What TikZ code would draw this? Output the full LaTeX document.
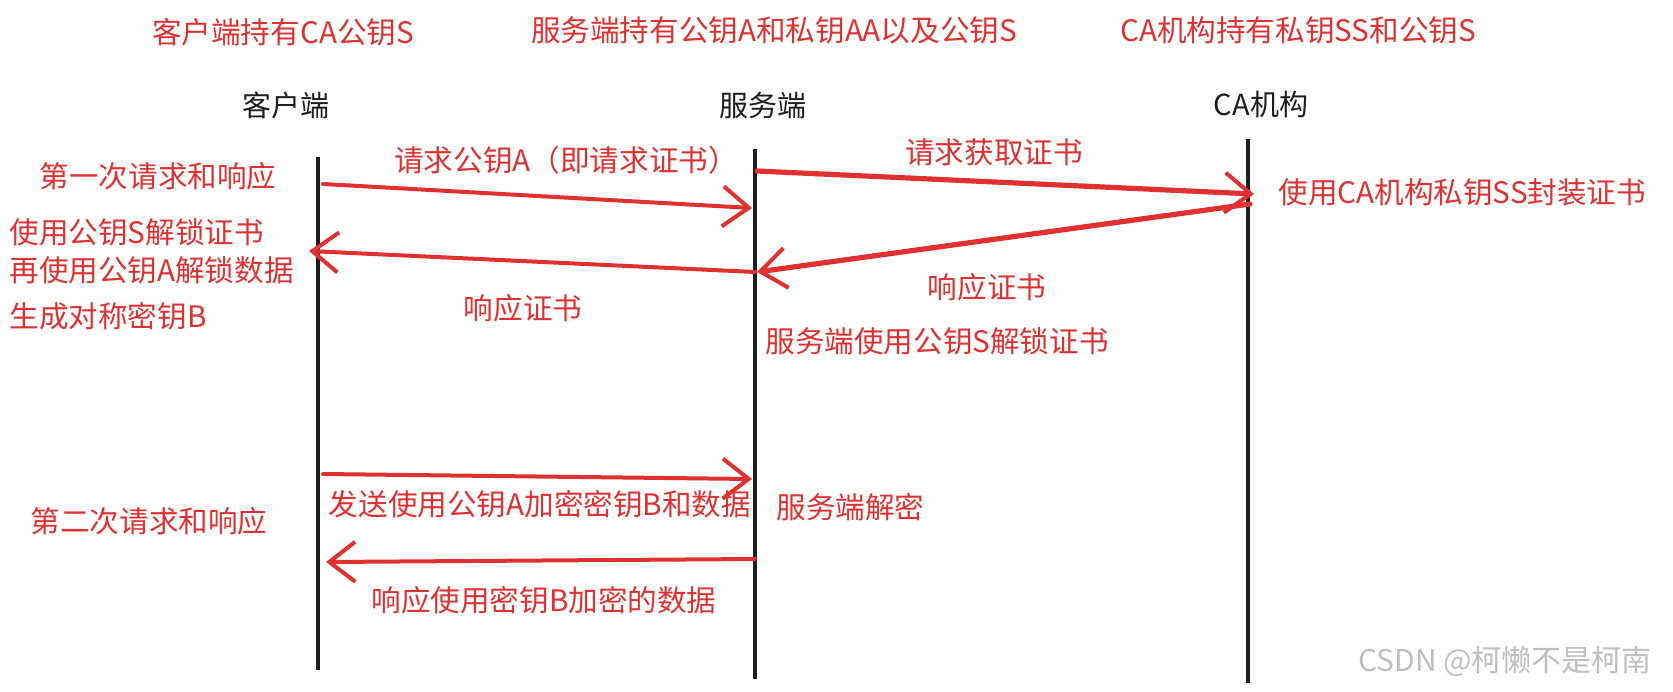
\documentclass[tikz,border=0pt]{standalone}
\usepackage{fontspec}
\setmainfont{Noto Sans CJK SC}
\usepackage{xcolor}
\usepackage{tikz}
\usetikzlibrary{arrows.meta,positioning}
\definecolor{sketchred}{RGB}{224,49,49}
\definecolor{inkblack}{RGB}{30,30,30}

\begin{document}
\begin{tikzpicture}[
    x=0.5pt, y=-0.5pt,
    redtxt/.style={text=sketchred, font=\fontsize{14.8}{17}\selectfont, inner sep=0pt},
    head/.style={text=inkblack, font=\fontsize{14.5}{17}\selectfont, inner sep=0pt},
    life/.style={draw=inkblack, line width=1.6pt},
    msg/.style={draw=sketchred, line width=2pt, line cap=round,
        -{Straight Barb[length=13pt, width=20pt, line width=2pt]}}
]
\useasboundingbox (0,0) rectangle (1673,691);

% who holds which key
\node[redtxt] (holdc) at (283,32) {客户端持有CA公钥S};
\node[redtxt] (holds) at (774,30) {服务端持有公钥A和私钥AA以及公钥S};
\node[redtxt] (holdca) at (1298,30) {CA机构持有私钥SS和公钥S};

% parties and lifelines
\node[head] (client) at (286,105) {客户端};
\node[head] (server) at (763,105) {服务端};
\node[head] (ca) at (1261,104) {CA机构};

\coordinate (c1) at (318,157);  \coordinate (c2) at (318,670);
\coordinate (s1) at (755,149);  \coordinate (s2) at (755,679);
\coordinate (a1) at (1248,139); \coordinate (a2) at (1248,683);
\draw[life] (c1) -- (c2);
\draw[life] (s1) -- (s2);
\draw[life] (a1) -- (a2);

% first round
\node[redtxt] (round1) at (158,176) {第一次请求和响应};
\coordinate (m1a) at (323,184);  \coordinate (m1b) at (752,208);
\coordinate (m2a) at (757,171);  \coordinate (m2b) at (1254,194);
\coordinate (m3a) at (1250,204); \coordinate (m3b) at (757,272);
\coordinate (m4a) at (755,272);  \coordinate (m4b) at (309,251);
\draw[msg] (m1a) -- (m1b);
\draw[msg, line width=2.6pt] (m2a) -- (m2b);
\draw[msg, line width=2.6pt] (m3a) -- (m3b);
\draw[msg] (m4a) -- (m4b);
\node[redtxt] (req) at (566,160) {请求公钥A（即请求证书）};
\node[redtxt] (reqca) at (994,152) {请求获取证书};
\node[redtxt, anchor=west] (seal) at (1278,192) {使用CA机构私钥SS封装证书};
\node[redtxt] (respca) at (987,287) {响应证书};
\node[redtxt] (resp) at (523,308) {响应证书};
\node[redtxt, anchor=west] (unlock1) at (9,232) {使用公钥S解锁证书};
\node[redtxt, anchor=west] (unlock2) at (9,270) {再使用公钥A解锁数据};
\node[redtxt, anchor=west] (genkey) at (9,316) {生成对称密钥B};
\node[redtxt, anchor=west] (unlocks) at (765,341) {服务端使用公钥S解锁证书};

% second round
\node[redtxt] (round2) at (149,521) {第二次请求和响应};
\coordinate (m5a) at (323,474); \coordinate (m5b) at (752,479);
\coordinate (m6a) at (755,559); \coordinate (m6b) at (326,562);
\draw[msg] (m5a) -- (m5b);
\draw[msg] (m6a) -- (m6b);
\node[redtxt] (send) at (540,504) {发送使用公钥A加密密钥B和数据};
\node[redtxt, anchor=west] (decrypt) at (776,507) {服务端解密};
\node[redtxt] (reply) at (544,600) {响应使用密钥B加密的数据};

\node[text=black!25, font=\fontsize{15}{18}\selectfont, inner sep=0pt] (mark) at (1505,661) {CSDN @柯懒不是柯南};
\end{tikzpicture}
\end{document}
